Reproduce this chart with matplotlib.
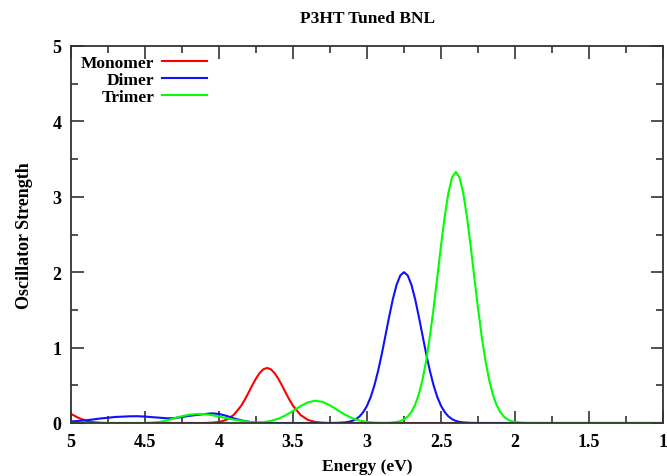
import matplotlib
matplotlib.use("Agg")
import matplotlib.pyplot as plt
from matplotlib.ticker import MultipleLocator

# Oscillator strength spectra (energies in eV), read per series
mono_e = [5.0, 4.95, 4.9, 4.85, 4.8, 4.75, 4.1, 4.05, 4.0, 3.95, 3.9, 3.85, 3.825, 3.8,
          3.775, 3.75, 3.725, 3.7, 3.675, 3.65, 3.625, 3.6, 3.575, 3.55, 3.525, 3.5,
          3.45, 3.4, 3.35, 3.3, 3.25, 1.0]
mono_f = [0.121, 0.068, 0.031, 0.011, 0.003, 0.0, 0.0, 0.004, 0.013, 0.042, 0.108, 0.229,
          0.312, 0.404, 0.500, 0.590, 0.664, 0.713, 0.73, 0.713, 0.664, 0.590, 0.500,
          0.404, 0.312, 0.229, 0.108, 0.042, 0.013, 0.004, 0.0, 0.0]

dimer_e = [5.0, 4.9, 4.8, 4.7, 4.6, 4.55, 4.5, 4.4, 4.35, 4.3, 4.25, 4.2, 4.1, 4.05,
           4.0, 3.95, 3.9, 3.85, 3.8, 3.75, 3.7, 3.25, 3.2, 3.15, 3.125, 3.1, 3.075,
           3.05, 3.025, 3.0, 2.975, 2.95, 2.925, 2.9, 2.875, 2.85, 2.825, 2.8, 2.775,
           2.75, 2.725, 2.7, 2.675, 2.65, 2.625, 2.6, 2.575, 2.55, 2.525, 2.5, 2.475,
           2.45, 2.425, 2.4, 2.375, 2.35, 2.3, 2.25, 1.0]
dimer_f = [0.02, 0.035, 0.06, 0.08, 0.089, 0.09, 0.085, 0.07, 0.062, 0.065, 0.08, 0.095,
           0.118, 0.128, 0.12, 0.095, 0.062, 0.035, 0.017, 0.005, 0.0, 0.0, 0.002, 0.008,
           0.015, 0.028, 0.051, 0.088, 0.145, 0.228, 0.345, 0.499, 0.691, 0.916, 1.163,
           1.413, 1.645, 1.834, 1.957, 2.0, 1.957, 1.834, 1.645, 1.413, 1.163, 0.916,
           0.691, 0.499, 0.345, 0.228, 0.145, 0.088, 0.051, 0.028, 0.015, 0.008, 0.002,
           0.0, 0.0]

trimer_e = [5.0, 4.5, 4.45, 4.4, 4.35, 4.3, 4.25, 4.2, 4.15, 4.1, 4.05, 4.0, 3.95,
            3.9, 3.85, 3.8, 3.75, 3.7, 3.65, 3.6, 3.55, 3.5, 3.45, 3.4, 3.35, 3.3,
            3.25, 3.2, 3.15, 3.1, 3.05, 3.0, 2.95, 2.9, 2.85, 2.8, 2.775, 2.75, 2.725,
            2.7, 2.675, 2.65, 2.625, 2.6, 2.575, 2.55, 2.525, 2.5, 2.475, 2.45, 2.425,
            2.4, 2.375, 2.35, 2.325, 2.3, 2.275, 2.25, 2.225, 2.2, 2.175, 2.15, 2.125,
            2.1, 2.075, 2.05, 2.025, 2.0, 1.95, 1.9, 1.0]
trimer_f = [0.0, 0.0, 0.005, 0.015, 0.035, 0.065, 0.09, 0.11, 0.12, 0.118, 0.105, 0.085,
            0.065, 0.045, 0.03, 0.015, 0.006, 0.012, 0.027, 0.056, 0.101, 0.160, 0.223,
            0.273, 0.295, 0.280, 0.234, 0.173, 0.112, 0.064, 0.032, 0.014, 0.005, 0.002,
            0.003, 0.013, 0.025, 0.047, 0.085, 0.146, 0.241, 0.380, 0.574, 0.831, 1.150,
            1.524, 1.936, 2.353, 2.739, 3.053, 3.258, 3.33, 3.258, 3.053, 2.739, 2.353,
            1.936, 1.524, 1.150, 0.831, 0.574, 0.380, 0.241, 0.146, 0.085, 0.047, 0.025,
            0.013, 0.003, 0.0, 0.0]

labels = ["Monomer", "Dimer", "Trimer"]
colors = ["#ff0000", "#1010ff", "#00ff00"]

x_ticks = [5, 4.5, 4, 3.5, 3, 2.5, 2, 1.5, 1]
x_ticklabels = ["5", "4.5", "4", "3.5", "3", "2.5", "2", "1.5", "1"]

plt.rcParams['font.family'] = ['Liberation Serif', 'DejaVu Serif']
plt.rcParams['font.weight'] = 'bold'

fig = plt.figure(figsize=(6.67, 4.77), dpi=100)
ax = fig.add_axes([71 / 667, 1 - 424 / 477, 592 / 667, 377 / 477])

series = [(mono_e, mono_f), (dimer_e, dimer_f), (trimer_e, trimer_f)]
for (e, f), lab, c in zip(series, labels, colors):
    ax.plot(e, f, color=c, lw=1.5, label=lab, solid_joinstyle='round')

ax.set_xlim(5, 1)
ax.set_ylim(0, 5)
ax.set_xticks(x_ticks)
ax.set_xticklabels(x_ticklabels)
ax.xaxis.set_minor_locator(MultipleLocator(0.25))
ax.yaxis.set_major_locator(MultipleLocator(1))
ax.yaxis.set_minor_locator(MultipleLocator(0.5))
ax.tick_params(which='both', direction='in', top=True, right=True,
               color='#333333', width=1.2)
ax.tick_params(which='major', length=9, labelsize=13, pad=7)
ax.tick_params(which='minor', length=5)
for s in ax.spines.values():
    s.set_linewidth(1.3)
    s.set_color('#333333')

ax.set_xlabel("Energy (eV)", fontsize=12.5, fontweight='bold', labelpad=6)
ax.set_ylabel("Oscillator Strength", fontsize=13, fontweight='bold', labelpad=14)
ax.set_title("P3HT Tuned BNL", fontsize=12.5, fontweight='bold', pad=17)

# legend with the labels right-aligned ahead of the line samples
leg = ax.legend(loc='upper left', bbox_to_anchor=(-0.002, 1.006), markerfirst=False,
                frameon=False, fontsize=12.5, handlelength=2.6, handletextpad=0.45,
                labelspacing=0.05, borderaxespad=0.25)

fig.savefig("out.png", dpi=100)
